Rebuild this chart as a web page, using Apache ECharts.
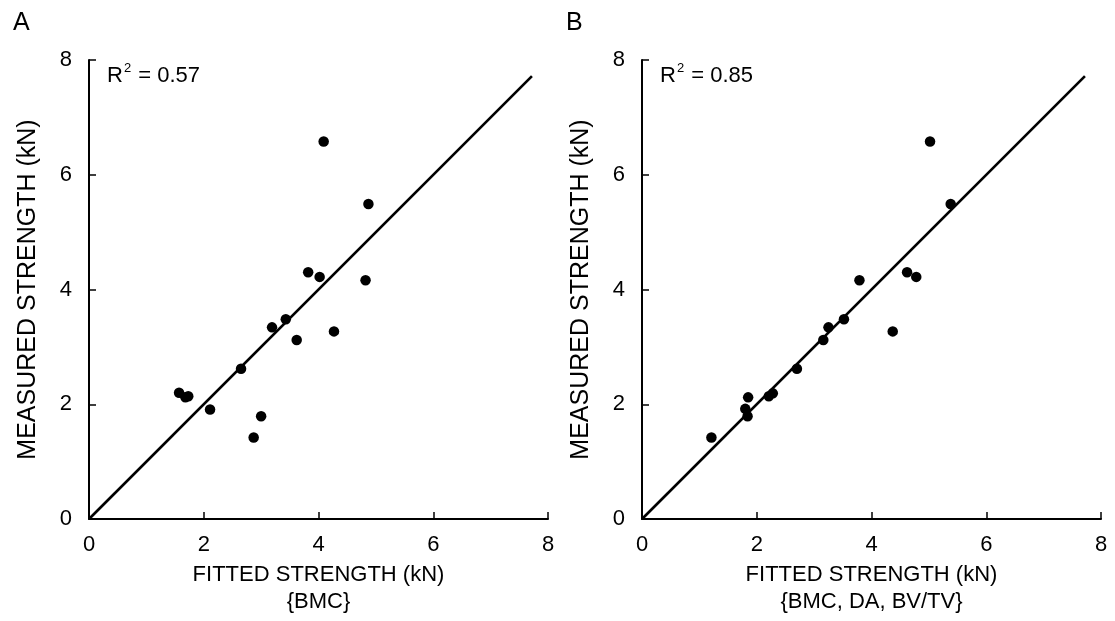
<!DOCTYPE html>
<html>
<head>
<meta charset="utf-8">
<script src="https://cdn.jsdelivr.net/npm/echarts@6/dist/echarts.min.js"></script>
<style>
  html, body { margin: 0; padding: 0; background: #ffffff; }
  #chart { width: 1115px; height: 621px; }
</style>
</head>
<body>
<div id="chart"></div>
<script>
// 测量强度 vs 拟合强度 (kN)
var bmcFitted = [4.09, 4.87, 3.82, 4.02, 4.82, 3.43, 3.19, 4.27, 3.62, 2.65, 1.57, 1.68, 1.73, 2.11, 3.00, 2.87];
var bmcMeasured = [6.58, 5.49, 4.30, 4.22, 4.16, 3.48, 3.34, 3.27, 3.12, 2.62, 2.20, 2.12, 2.14, 1.91, 1.79, 1.42];

var fullFitted = [5.02, 5.38, 4.62, 4.78, 3.79, 3.52, 3.25, 4.37, 3.16, 2.70, 1.85, 2.21, 2.28, 1.80, 1.84, 1.21];
var fullMeasured = [6.58, 5.49, 4.30, 4.22, 4.16, 3.48, 3.34, 3.27, 3.12, 2.62, 2.12, 2.14, 2.19, 1.92, 1.79, 1.42];

// y = x 直线
var lineEnds = [0, 7.72];
var axisTicks = [0, 2, 4, 6, 8];

var panelLetters = ['A', 'B'];
var r2Values = ['0.57', '0.85'];
var xNames = ['FITTED STRENGTH (kN)\n{BMC}', 'FITTED STRENGTH (kN)\n{BMC, DA, BV/TV}'];
var yName = 'MEASURED STRENGTH (kN)';

var font = 'Liberation Sans, Arial, Helvetica, sans-serif';

function pairs(xs, ys) {
    return xs.map(function (x, i) { return [x, ys[i]]; });
}

var chart = echarts.init(document.getElementById('chart'));

var grids = [
    { left: 89, top: 60, width: 459, height: 459 },
    { left: 642, top: 60, width: 459, height: 459 }
];

function makeAxis(idx, isX) {
    var ax = {
        type: 'value',
        gridIndex: idx,
        min: axisTicks[0],
        max: axisTicks[axisTicks.length - 1],
        interval: 2,
        axisLine: { show: true, onZero: false, lineStyle: { color: '#000', width: 2 } },
        axisTick: { show: true, inside: true, length: 7, lineStyle: { color: '#000', width: 1.5 } },
        axisLabel: { color: '#000', fontSize: 22, fontFamily: font, margin: isX ? 15 : 17 },
        splitLine: { show: false },
        nameLocation: 'middle'
    };
    if (isX) {
        ax.name = xNames[idx];
        ax.nameGap = 42;
        ax.nameTextStyle = { color: '#000', fontSize: 22, fontFamily: font, lineHeight: 27 };
    } else {
        ax.name = yName;
        ax.nameGap = 48;
        ax.nameTextStyle = { color: '#000', fontSize: 25, fontFamily: font };
    }
    return ax;
}

var series = [];
[[bmcFitted, bmcMeasured], [fullFitted, fullMeasured]].forEach(function (d, i) {
    series.push({
        type: 'line',
        xAxisIndex: i,
        yAxisIndex: i,
        data: pairs(lineEnds, lineEnds),
        symbol: 'none',
        lineStyle: { color: '#000', width: 2.6 },
        silent: true
    });
    series.push({
        type: 'scatter',
        xAxisIndex: i,
        yAxisIndex: i,
        data: pairs(d[0], d[1]),
        symbol: 'circle',
        symbolSize: 10.5,
        itemStyle: { color: '#000', opacity: 1 }
    });
});

var graphic = [];
grids.forEach(function (g, i) {
    graphic.push({
        type: 'text', left: g.left - 76, top: 11,
        style: { text: panelLetters[i], fontSize: 25, fontFamily: font, fill: '#000' }
    });
    graphic.push({
        type: 'text', left: g.left + 18, top: 62,
        style: {
            text: '{a|R}{s|2}{a| = ' + r2Values[i] + '}',
            fill: '#000',
            rich: {
                a: { fontSize: 22, fontFamily: font, fill: '#000', height: 24 },
                s: { fontSize: 13, fontFamily: font, fill: '#000', padding: [0, 1, 14, 1] }
            }
        }
    });
});

var option = {
    backgroundColor: '#ffffff',
    animation: false,
    grid: grids,
    xAxis: [makeAxis(0, true), makeAxis(1, true)],
    yAxis: [makeAxis(0, false), makeAxis(1, false)],
    series: series,
    graphic: graphic
};
chart.setOption(option);
</script>
</body>
</html>
